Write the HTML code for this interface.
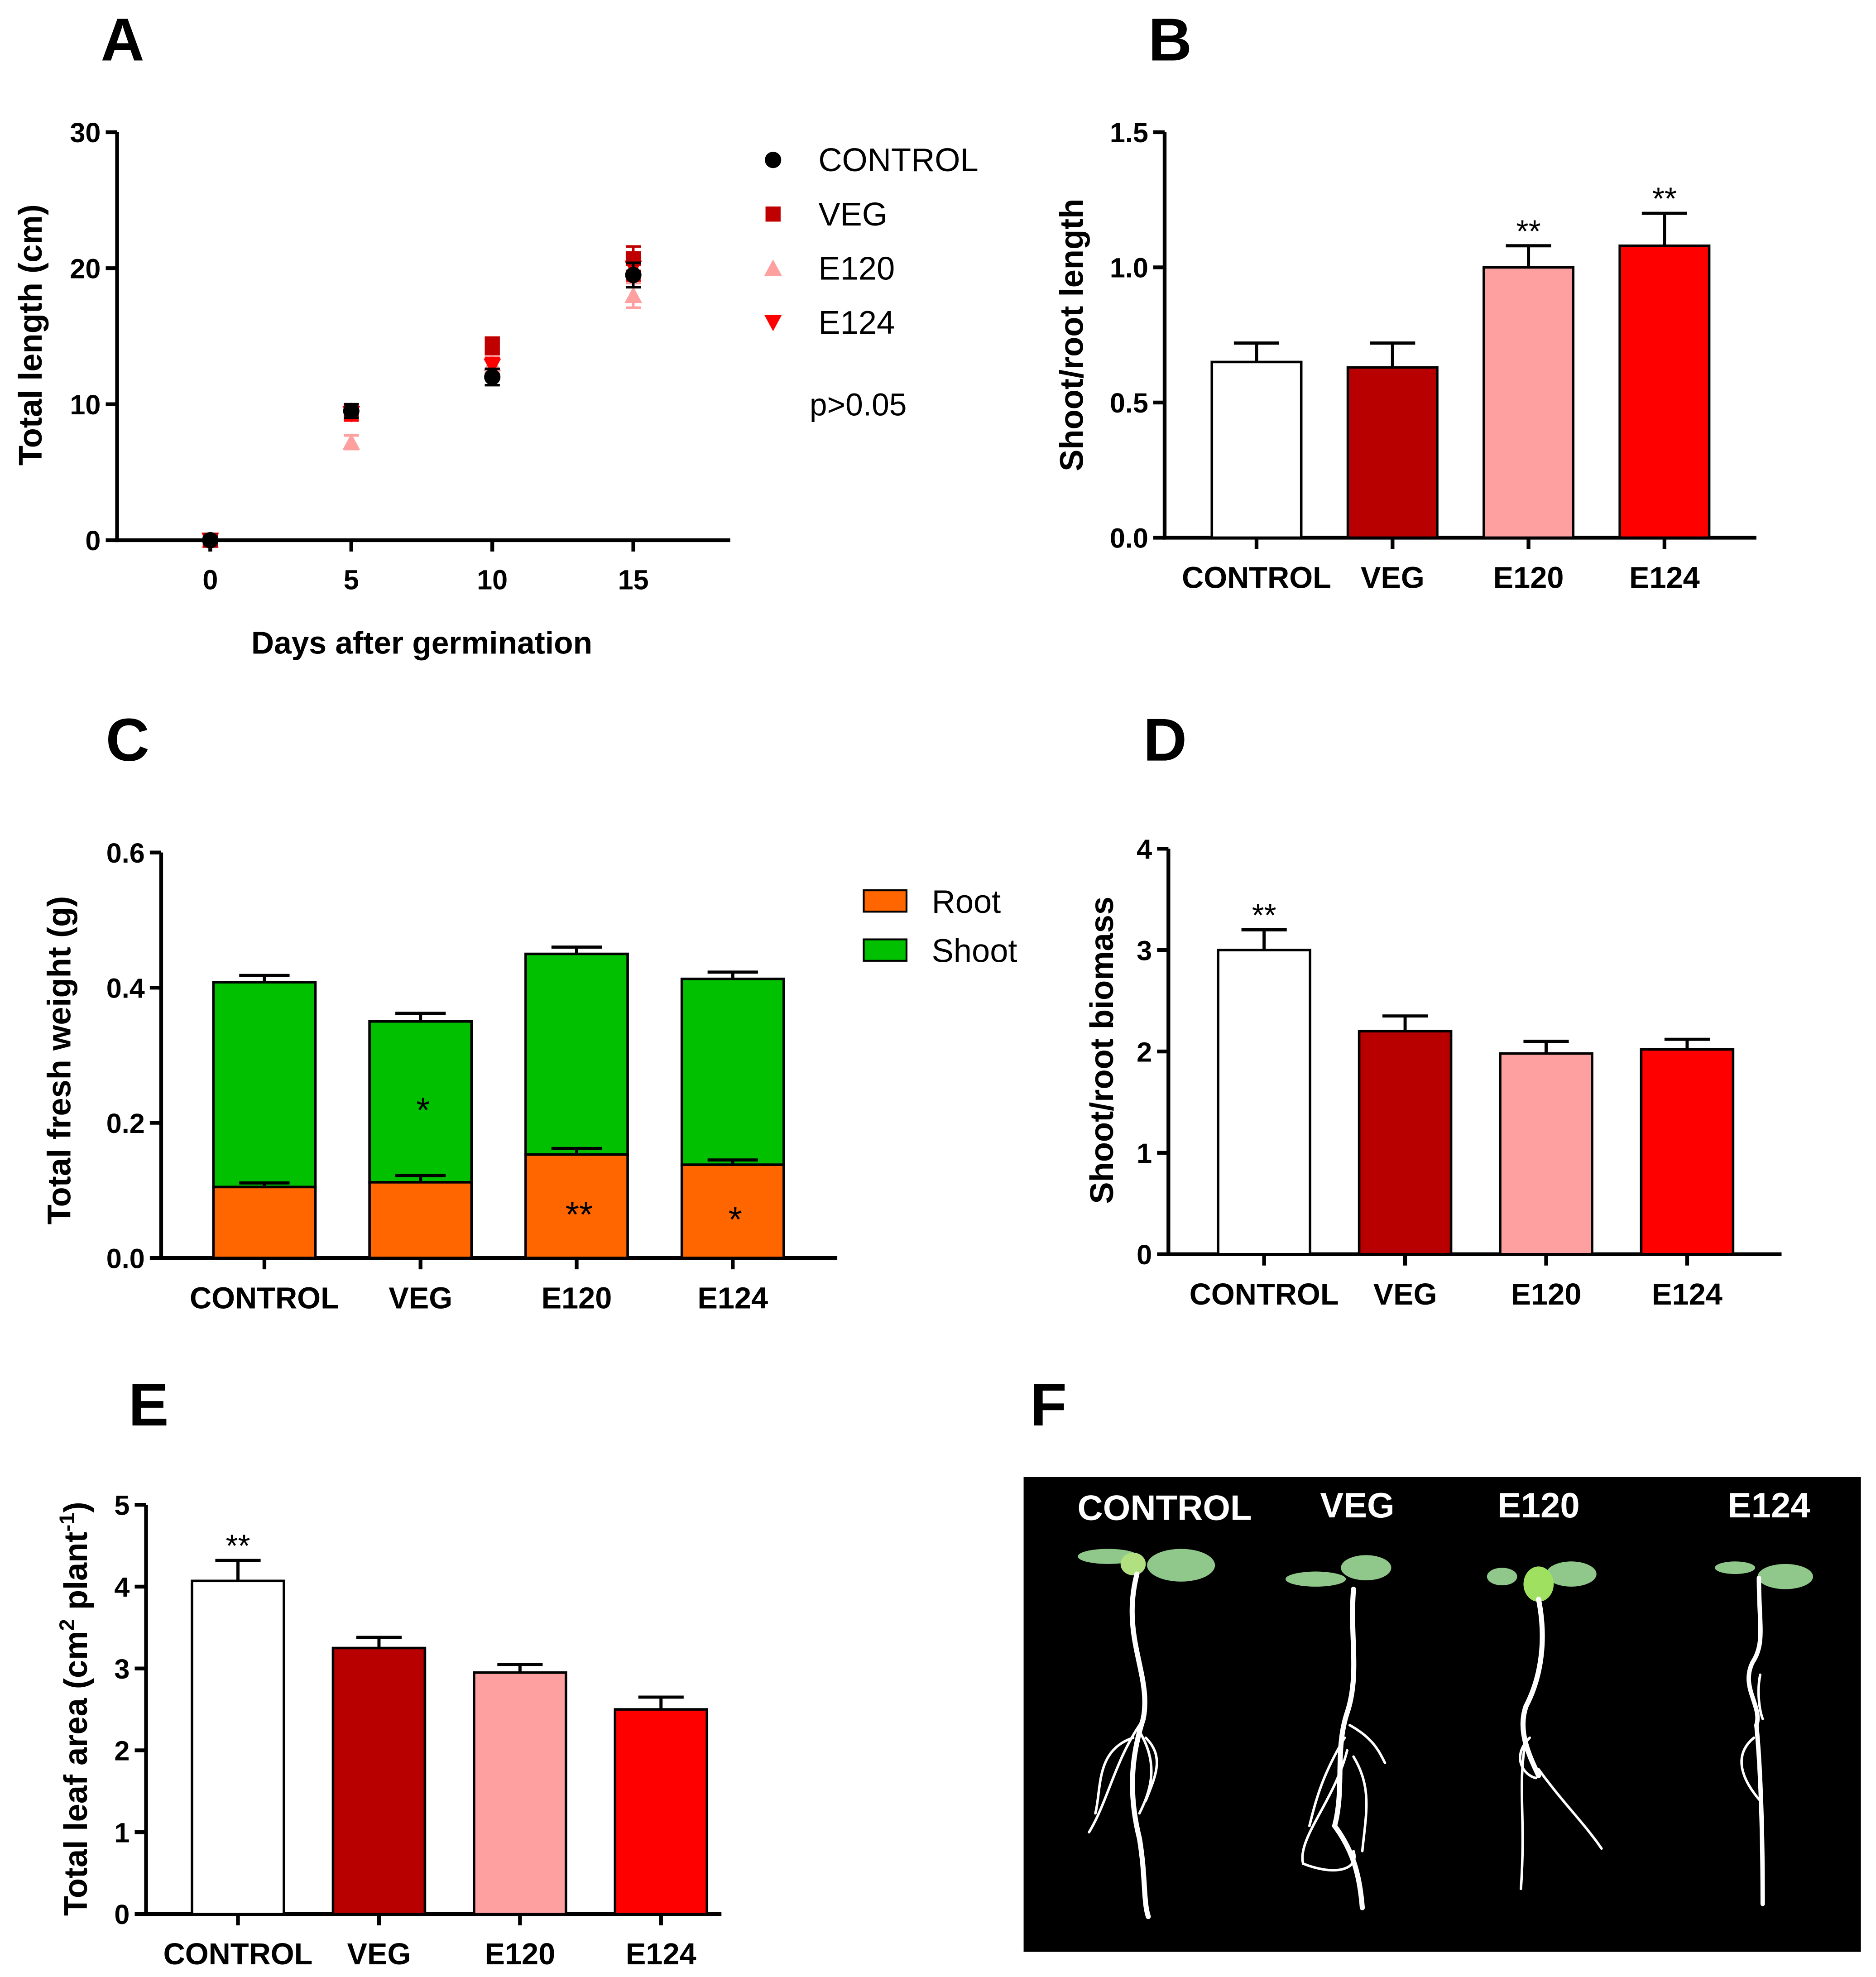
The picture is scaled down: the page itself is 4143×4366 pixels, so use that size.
<!DOCTYPE html>
<html><head><meta charset="utf-8"><style>
html,body{margin:0;padding:0;background:#fff}
svg{display:block}
text{font-family:"Liberation Sans",Arial,sans-serif}
</style></head><body>
<svg id="fig" width="4143" height="4366" viewBox="0 0 1490 1570" preserveAspectRatio="none" xmlns="http://www.w3.org/2000/svg">
<g font-weight="bold" font-size="48" fill="#000">
<text x="80" y="48">A</text>
<text x="912" y="48">B</text>
<text x="84" y="604">C</text>
<text x="908" y="604">D</text>
<text x="102" y="1132">E</text>
<text x="818" y="1132">F</text>
</g>
<g>
<rect x="813" y="1173" width="665" height="377" fill="#000"/>
<g fill="#fff" font-weight="bold" font-size="28" text-anchor="middle">
<text x="925" y="1207">CONTROL</text>
<text x="1078" y="1205">VEG</text>
<text x="1222" y="1205">E120</text>
<text x="1405" y="1205">E124</text>
</g>
<g fill="#8fc88a">
<ellipse cx="938" cy="1243" rx="27" ry="13"/><ellipse cx="880" cy="1236" rx="24" ry="6"/><ellipse cx="900" cy="1242" rx="10" ry="9" fill="#b0e080"/>
<ellipse cx="1085" cy="1245" rx="20" ry="10"/><ellipse cx="1045" cy="1254" rx="24" ry="6"/>
<ellipse cx="1248" cy="1250" rx="20" ry="10"/><ellipse cx="1193" cy="1252" rx="12" ry="7"/><ellipse cx="1222" cy="1258" rx="12" ry="14" fill="#9fe060"/>
<ellipse cx="1418" cy="1252" rx="22" ry="10"/><ellipse cx="1378" cy="1245" rx="16" ry="5"/>
</g>
<g stroke="#fff" fill="none" stroke-linecap="round">
<path d="M903 1250 C890 1300 915 1330 908 1365 C900 1390 895 1420 905 1460 C910 1490 908 1510 912 1522" stroke-width="4"/>
<path d="M905 1370 C885 1400 880 1430 865 1455 M905 1375 C920 1400 915 1420 905 1440 M900 1380 C870 1390 875 1420 870 1440 M910 1380 C925 1395 918 1410 910 1430" stroke-width="2"/>
<path d="M1075 1262 C1072 1300 1080 1330 1070 1360 C1060 1390 1068 1420 1060 1450 C1075 1470 1080 1490 1082 1515" stroke-width="4"/>
<path d="M1068 1380 C1050 1410 1045 1430 1040 1450 M1070 1390 C1060 1430 1030 1460 1035 1480 C1060 1490 1080 1485 1075 1470 M1075 1395 C1090 1420 1085 1440 1082 1470 M1072 1370 C1090 1380 1095 1390 1100 1400" stroke-width="2"/>
<path d="M1222 1270 C1228 1300 1225 1330 1212 1355 C1205 1375 1215 1395 1222 1410" stroke-width="4"/>
<path d="M1212 1380 C1205 1420 1212 1440 1208 1500 M1222 1405 C1240 1430 1260 1450 1272 1468 M1215 1380 C1200 1395 1210 1410 1220 1412" stroke-width="2"/>
<path d="M1397 1253 C1397 1290 1402 1305 1392 1320 C1382 1340 1400 1355 1395 1370 C1398 1400 1400 1450 1400 1512" stroke-width="3.5"/>
<path d="M1393 1380 C1375 1395 1385 1415 1398 1430 M1398 1330 C1395 1345 1398 1360 1400 1365" stroke-width="2"/>
</g>
</g>
</svg>
<script>
// ===== Panel A data =====
const daysA = [0, 5, 10, 15];
const seriesNamesA = ["CONTROL", "VEG", "E120", "E124"];
const controlA = [0, 9.5, 12.0, 19.5];
const vegA = [0, 9.5, 14.3, 20.7];
const e120A = [0, 7.2, 13.0, 18.0];
const e124A = [0, 9.3, 12.8, 20.0];
const errA = [0, 0.5, 0.6, 0.9];
const xTicksA = [0, 5, 10, 15];
const yTicksA = [0, 10, 20, 30];
// ===== Panel B data =====
const groups = ["CONTROL", "VEG", "E120", "E124"];
const ratioLenB = [0.65, 0.63, 1.0, 1.08];
const ratioLenErrB = [0.07, 0.09, 0.08, 0.12];
const starsB = ["", "", "**", "**"];
const yTicksB = [0.0, 0.5, 1.0, 1.5];
// ===== Panel C data =====
const rootC = [0.105, 0.112, 0.153, 0.138];
const rootErrC = [0.006, 0.01, 0.009, 0.007];
const totalC = [0.408, 0.350, 0.450, 0.413];
const totalErrC = [0.01, 0.012, 0.01, 0.01];
const shootStarsC = ["", "*", "", ""];
const rootStarsC = ["", "", "**", "*"];
const yTicksC = [0.0, 0.2, 0.4, 0.6];
// ===== Panel D data =====
const biomassD = [3.0, 2.2, 1.98, 2.02];
const biomassErrD = [0.2, 0.15, 0.12, 0.1];
const starsD = ["**", "", "", ""];
const yTicksD = [0, 1, 2, 3, 4];
// ===== Panel E data =====
const leafE = [4.07, 3.25, 2.95, 2.5];
const leafErrE = [0.25, 0.13, 0.1, 0.15];
const starsE = ["**", "", "", ""];
const yTicksE = [0, 1, 2, 3, 4, 5];

const NS = "http://www.w3.org/2000/svg";
const svg = document.getElementById("fig");
const colors = ["#fff", "#b80000", "#ffa0a0", "#ff0000"];
function mk(tag, attrs, parent, txt) {
  const e = document.createElementNS(NS, tag);
  for (const k in attrs) e.setAttribute(k, attrs[k]);
  if (txt !== undefined) e.textContent = txt;
  (parent || svg).appendChild(e);
  return e;
}
function axes(g, x0, x1, yTop, yBot, ticks, vmax, fmt, name) {
  const ys = v => yBot - (v / vmax) * (yBot - yTop);
  const ax = mk("line", {x1: x0, y1: yTop, x2: x0, y2: yBot + 1.5, stroke: "#000", "stroke-width": 3}, g);
  
  
  const bx = mk("line", {x1: x0 - 1.5, y1: yBot, x2: x1, y2: yBot, stroke: "#000", "stroke-width": 3}, g);
  
  
  ticks.forEach(t => {
    mk("line", {x1: x0 - 9, y1: ys(t), x2: x0, y2: ys(t), stroke: "#000", "stroke-width": 3}, g);
    const tl = mk("text", {x: x0 - 13, y: ys(t) + 8, "text-anchor": "end", "font-size": 22, "font-weight": "bold"}, g, fmt(t));
    
    
  });
  return ys;
}
function ytitle(g, x, y, txt, name) {
  const t = mk("text", {x: 0, y: 0, transform: `translate(${x},${y}) rotate(-90)`, "text-anchor": "middle", "font-size": 26, "font-weight": "bold"}, g);
  t.innerHTML = txt;
  
  
}
function errbar(g, cx, yv, ye, hw) {
  mk("line", {x1: cx, y1: yv, x2: cx, y2: ye, stroke: "#000", "stroke-width": 2.5}, g);
  mk("line", {x1: cx - hw, y1: ye, x2: cx + hw, y2: ye, stroke: "#000", "stroke-width": 2.5}, g);
}
function barChart(name, x0, x1, yTop, yBot, ticks, vmax, fmt, centers, w, vals, errs, stars, labelY) {
  const g = mk("g", {});  
  const ys = axes(g, x0, x1, yTop, yBot, ticks, vmax, fmt, name);
  groups.forEach((gr, i) => {
    const cx = centers[i];
    errbar(g, cx, ys(vals[i]), ys(vals[i] + errs[i]), 18);
    const r = mk("rect", {x: cx - w / 2, y: ys(vals[i]), width: w, height: yBot - ys(vals[i]), fill: colors[i], stroke: "#000", "stroke-width": 2}, g);
    
    
    mk("line", {x1: cx, y1: yBot, x2: cx, y2: yBot + 9, stroke: "#000", "stroke-width": 3}, g);
    const l = mk("text", {x: cx, y: labelY, "text-anchor": "middle", "font-size": 24, "font-weight": "bold"}, g, gr);
    
    
    if (stars[i]) {
      const s = mk("text", {x: cx, y: ys(vals[i] + errs[i]) - 3, "text-anchor": "middle", "font-size": 25}, g, stars[i]);
      
      
    }
  });
  return g;
}

// Panel A
(function () {
  const g = mk("g", {});  
  const ys = axes(g, 93, 580, 105, 429, yTicksA, 30, t => String(t), 'panel-a');
  const xs = d => 167 + d * 22.4;
  xTicksA.forEach(t => {
    mk("line", {x1: xs(t), y1: 429, x2: xs(t), y2: 438, stroke: "#000", "stroke-width": 3}, g);
    const l = mk("text", {x: xs(t), y: 468, "text-anchor": "middle", "font-size": 22, "font-weight": "bold"}, g, String(t));
    
    
  });
  const all = [controlA, vegA, e120A, e124A];
  const cols = ["#000", "#c00000", "#ffa0a0", "#ff0000"];
  function marker(k, x, y, parent) {
    let m;
    if (k === 0) m = mk("circle", {cx: x, cy: y, r: 6.5, fill: cols[0]}, parent);
    else if (k === 1) m = mk("rect", {x: x - 6, y: y - 6, width: 12, height: 12, fill: cols[1]}, parent);
    else if (k === 2) m = mk("path", {d: `M${x} ${y - 7}L${x + 7} ${y + 6}L${x - 7} ${y + 6}Z`, fill: cols[2]}, parent);
    else m = mk("path", {d: `M${x} ${y + 7}L${x + 7} ${y - 6}L${x - 7} ${y - 6}Z`, fill: cols[3]}, parent);
    return m;
  }
  [2, 3, 1, 0].forEach(k => {
    all[k].forEach((v, i) => {
      const x = xs(daysA[i]);
      if (errA[i] > 0) {
        mk("line", {x1: x, y1: ys(v - errA[i]), x2: x, y2: ys(v + errA[i]), stroke: cols[k], "stroke-width": 2}, g);
        mk("line", {x1: x - 6, y1: ys(v - errA[i]), x2: x + 6, y2: ys(v - errA[i]), stroke: cols[k], "stroke-width": 2}, g);
        mk("line", {x1: x - 6, y1: ys(v + errA[i]), x2: x + 6, y2: ys(v + errA[i]), stroke: cols[k], "stroke-width": 2}, g);
      }
      const m = marker(k, x, ys(v), g);
      
      
    });
  });
  seriesNamesA.forEach((n, k) => {
    const y = 127 + k * 43;
    const m = marker(k, 614, y, g);
    
    
    const t = mk("text", {x: 650, y: y + 9, "font-size": 26}, g, n);
    
    
  });
  const p = mk("text", {x: 643, y: 330, "font-size": 25}, g, "p>0.05");
   
  ytitle(g, 33, 266, "Total length (cm)", 'panel-a-y-title');
  const xt = mk("text", {x: 335, y: 519, "text-anchor": "middle", "font-size": 25, "font-weight": "bold"}, g, "Days after germination");
   
})();

// Panel B
(function () {
  const g = barChart('panel-b', 925, 1395, 105, 427, yTicksB, 1.5, t => t.toFixed(1), [998, 1106, 1214, 1322], 71, ratioLenB, ratioLenErrB, starsB, 467);
  ytitle(g, 860, 266, "Shoot/root length", 'panel-b-y-title');
})();

// Panel C
(function () {
  const g = mk("g", {});  
  const yBot = 999;
  const ys = axes(g, 128, 665, 677, yBot, yTicksC, 0.6, t => t.toFixed(1), 'panel-c');
  const centers = [210, 334, 458, 582], w = 81;
  groups.forEach((gr, i) => {
    const cx = centers[i];
    errbar(g, cx, ys(totalC[i]), ys(totalC[i] + totalErrC[i]), 20);
    const s = mk("rect", {x: cx - w / 2, y: ys(totalC[i]), width: w, height: ys(rootC[i]) - ys(totalC[i]), fill: "#00c000", stroke: "#000", "stroke-width": 2}, g);
     
    const r = mk("rect", {x: cx - w / 2, y: ys(rootC[i]), width: w, height: yBot - ys(rootC[i]), fill: "#ff6600", stroke: "#000", "stroke-width": 2}, g);
     
    errbar(g, cx, ys(rootC[i]), ys(rootC[i] + rootErrC[i]), 20);
    mk("line", {x1: cx, y1: yBot, x2: cx, y2: yBot + 9, stroke: "#000", "stroke-width": 3}, g);
    const l = mk("text", {x: cx, y: 1039, "text-anchor": "middle", "font-size": 24, "font-weight": "bold"}, g, gr);
     
    if (shootStarsC[i]) {
      const t = mk("text", {x: cx + 2, y: (ys(totalC[i]) + ys(rootC[i])) / 2 + 16, "text-anchor": "middle", "font-size": 28}, g, shootStarsC[i]);
       
    }
    if (rootStarsC[i]) {
      const t = mk("text", {x: cx + 2, y: (ys(rootC[i]) + yBot) / 2 + 16, "text-anchor": "middle", "font-size": 28}, g, rootStarsC[i]);
       
    }
  });
  [["Root", "#ff6600", 716], ["Shoot", "#00c000", 755]].forEach(([n, c, y]) => {
    const r = mk("rect", {x: 686, y: y - 9, width: 34, height: 17, fill: c, stroke: "#000", "stroke-width": 1.5}, g);
     
    const t = mk("text", {x: 740, y: y + 9, "font-size": 26}, g, n);
     
  });
  ytitle(g, 56, 842, "Total fresh weight (g)", 'panel-c-y-title');
})();

// Panel D
(function () {
  const g = barChart('panel-d', 928, 1415, 674, 996, yTicksD, 4, t => String(t), [1004, 1116, 1228, 1340], 73, biomassD, biomassErrD, starsD, 1036);
  ytitle(g, 884, 834, "Shoot/root biomass", 'panel-d-y-title');
})();

// Panel E
(function () {
  const g = barChart('panel-e', 116, 573, 1195, 1520, yTicksE, 5, t => String(t), [189, 301, 413, 525], 73, leafE, leafErrE, starsE, 1560);
  ytitle(g, 69, 1357, 'Total leaf area (cm<tspan dy="-10" font-size="17">2</tspan><tspan dy="10"> plant</tspan><tspan dy="-10" font-size="17">-1</tspan><tspan dy="10">)</tspan>', 'panel-e-y-title');
})();
</script>
</body></html>
